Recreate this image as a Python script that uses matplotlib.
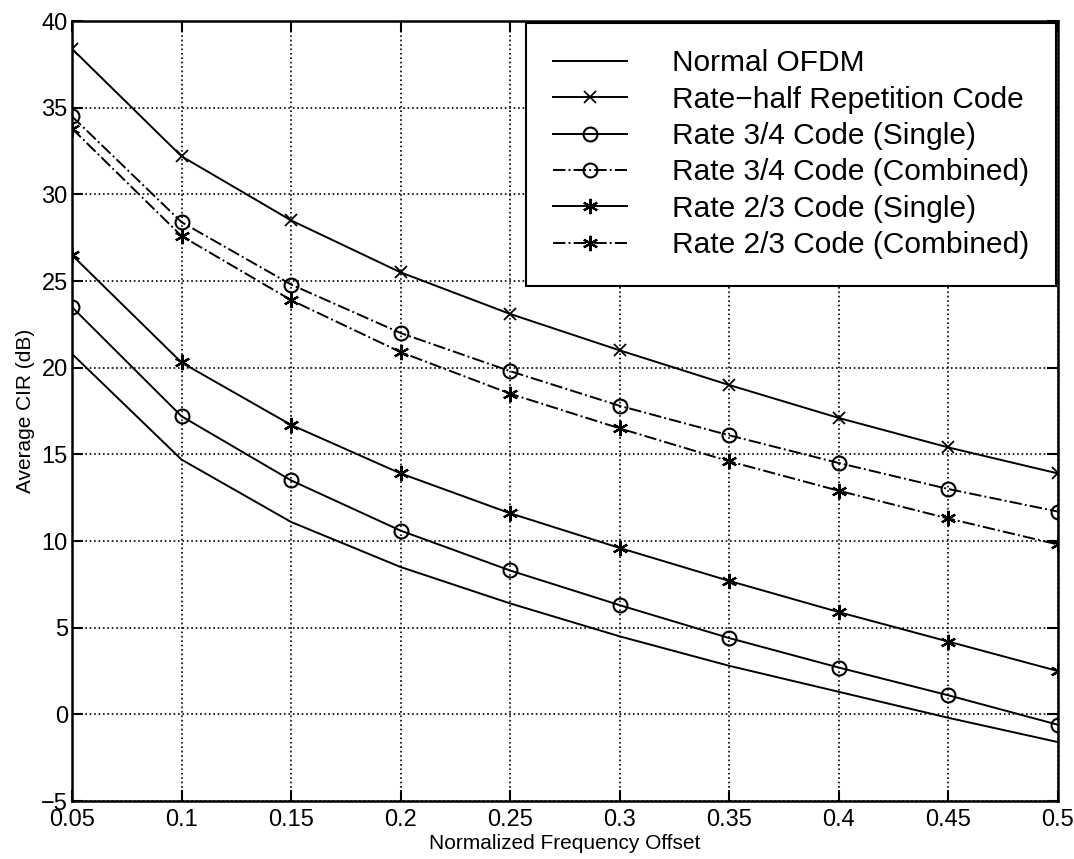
import matplotlib
matplotlib.use("Agg")
import matplotlib.pyplot as plt
import numpy as np

plt.rcParams['font.family'] = ['Liberation Sans', 'DejaVu Sans']

offset = [0.05, 0.1, 0.15, 0.2, 0.25, 0.3, 0.35, 0.4, 0.45, 0.5]

normal_ofdm = [20.8, 14.7, 11.1, 8.5, 6.4, 4.5, 2.8, 1.3, -0.2, -1.6]
rate_half = [38.4, 32.2, 28.5, 25.5, 23.1, 21.0, 19.0, 17.1, 15.4, 13.9]
r34_single = [23.5, 17.2, 13.5, 10.6, 8.3, 6.3, 4.4, 2.7, 1.1, -0.6]
r34_comb = [34.5, 28.4, 24.8, 22.0, 19.8, 17.8, 16.1, 14.5, 13.0, 11.7]
r23_single = [26.5, 20.3, 16.7, 13.9, 11.6, 9.6, 7.7, 5.9, 4.2, 2.5]
r23_comb = [33.8, 27.6, 23.9, 20.9, 18.5, 16.5, 14.6, 12.9, 11.3, 9.8]

labels = ["Normal OFDM", "Rate\u2212half Repetition Code", "Rate 3/4 Code (Single)",
          "Rate 3/4 Code (Combined)", "Rate 2/3 Code (Single)", "Rate 2/3 Code (Combined)"]

fig = plt.figure(figsize=(10.74, 8.59), dpi=100)
ax = fig.add_axes([0.067, 0.0675, 0.918, 0.908])

lw = 1.4
star = (6, 2, 0)  # matlab-like asterisk
ax.plot(offset, normal_ofdm, '-', color='black', lw=lw, label=labels[0])
ax.plot(offset, rate_half, '-', color='black', lw=lw, marker='x', ms=8, mew=1.3, label=labels[1])
ax.plot(offset, r34_single, '-', color='black', lw=lw, marker='o', ms=10, mfc='none', mew=1.5, label=labels[2])
ax.plot(offset, r34_comb, '-.', color='black', lw=lw, marker='o', ms=10, mfc='none', mew=1.5, label=labels[3])
ax.plot(offset, r23_single, '-', color='black', lw=lw, marker=star, ms=11, mew=1.6, label=labels[4])
ax.plot(offset, r23_comb, '-.', color='black', lw=lw, marker=star, ms=11, mew=1.6, label=labels[5])

ax.set_xlim(0.05, 0.5)
ax.set_ylim(-5, 40)
ax.set_xticks(offset)
ax.set_xticklabels(["0.05", "0.1", "0.15", "0.2", "0.25", "0.3", "0.35", "0.4", "0.45", "0.5"])
ax.set_yticks(np.arange(-5, 41, 5))
ax.tick_params(direction='in', length=8, width=1.5, labelsize=17, top=True, right=True)
ax.tick_params(axis='x', pad=6)
ax.tick_params(axis='y', pad=3)
for s in ax.spines.values():
    s.set_linewidth(1.8)
ax.grid(True, linestyle=':', color='black', linewidth=1.2)

ax.set_xlabel("Normalized Frequency Offset", fontsize=15, labelpad=2)
ax.set_ylabel("Average CIR (dB)", fontsize=15, labelpad=4)

leg = ax.legend(loc='upper right', fontsize=21.5, handlelength=2.5, handletextpad=1.5,
                fancybox=False, framealpha=1, edgecolor='black', borderpad=0.9,
                labelspacing=0.28, borderaxespad=0.05)
leg.get_frame().set_linewidth(1.5)

fig.savefig("out.png", dpi=100)
